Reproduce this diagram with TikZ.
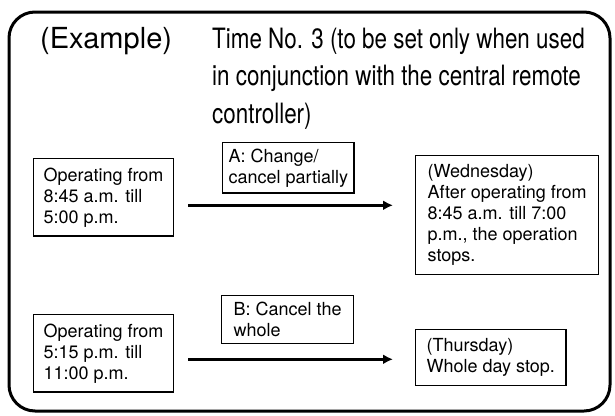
\documentclass[tikz,border=0pt]{standalone}
\usepackage{fontspec}
\setmainfont{TeX Gyre Heros}
\newfontfamily\narrowheros{TeX Gyre Heros}[FakeStretch=0.8]
\usetikzlibrary{positioning,arrows.meta}

\tikzstyle{time box}=[draw, line width=1.2pt, align=left,
  inner xsep=10pt, inner ysep=9pt,
  font=\fontsize{18}{21}\selectfont]
% the change boxes above the arrows are a bit tighter
\tikzstyle{action box}=[time box, inner xsep=6pt, inner ysep=6pt]
\tikzstyle{flow arrow}=[line width=3pt, -{Latex[length=10pt,width=10pt]},
  shorten <=14pt, shorten >=22pt]

\begin{document}
\begin{tikzpicture}[x=1pt, y=-1pt,
    heading/.style={inner sep=0pt, align=left,
      font=\narrowheros\fontsize{28}{37.5}\selectfont}]
  \useasboundingbox (0,0) rectangle (615,415);
  \draw[line width=3pt, rounded corners=26pt] (9,12) rectangle (610,411);

  \node[anchor=base west, inner sep=0pt, font=\fontsize{29}{36}\selectfont]
    (example) at (40,48) {(Example)};
  \node[heading, anchor=north west] (timeno) at (212,27.6)
    {Time No. 3 (to be set only when used\\
     in conjunction with the central remote\\
     controller)};

  % Wednesday
  \node[time box, anchor=north west] (run1) at (33,158)
    {Operating from\\8:45 a.m. till\\5:00 p.m.};
  \node[time box, anchor=north west, inner xsep=12pt] (wed) at (415,155)
    {(Wednesday)\\After operating from\\8:45 a.m. till 7:00\\p.m., the operation\\stops.};
  \node[action box, anchor=north west] (chgA) at (222,142)
    {A: Change/\\cancel partially};
  \draw[flow arrow] ([yshift=-8pt]run1.east) -- ([yshift=-8pt]run1.east -| wed.west);

  % Thursday
  \node[time box, anchor=north west] (run2) at (33,314)
    {Operating from\\5:15 p.m. till\\11:00 p.m.};
  \node[time box, anchor=north west, inner xsep=11pt] (thu) at (415,329)
    {(Thursday)\\Whole day stop.};
  \node[action box, anchor=north west, inner xsep=9pt, minimum width=132pt,
    minimum height=48pt] (cancB) at (221,295)
    {B: Cancel the\\whole};
  \draw[flow arrow] ([yshift=-6pt]run2.east) -- ([yshift=-6pt]run2.east -| thu.west);
\end{tikzpicture}
\end{document}
